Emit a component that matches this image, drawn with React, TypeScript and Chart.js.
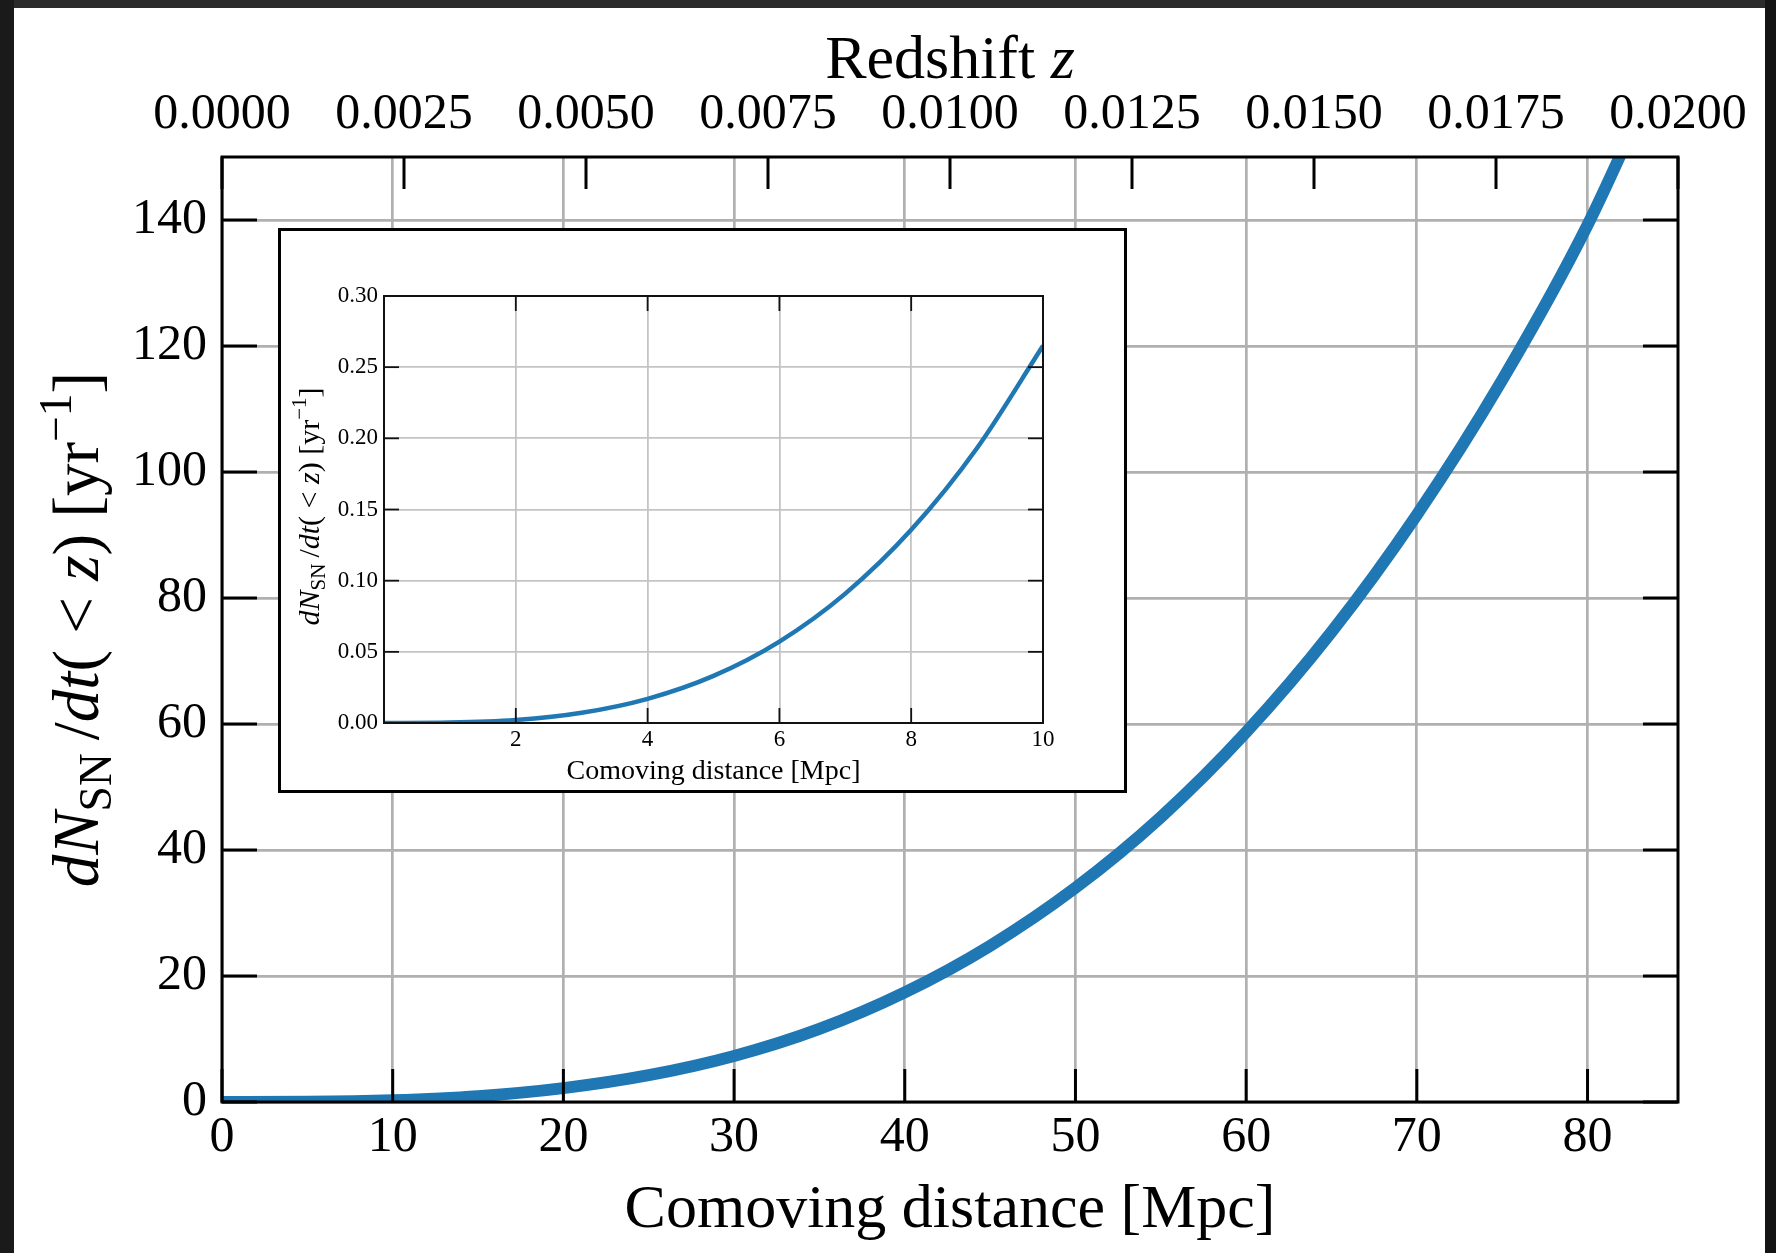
import React, { useEffect, useRef } from 'react';
import { Chart, registerables } from 'chart.js';

Chart.register(...registerables);

// ---------------- data ----------------
const distanceMpc = [0, 5, 10, 15, 20, 25, 30, 35, 40, 45, 50, 55, 60, 65, 70, 75, 80, 85];
const snRate = [0, 0.03, 0.27, 0.92, 2.2, 4.25, 7.3, 11.6, 17.4, 24.8, 34.0, 45.2, 58.7, 74.6, 93.2, 114.6, 139.2, 168.9];

const insetDistanceMpc = [0, 1, 2, 3, 4, 5, 6, 7, 8, 9, 10];
const insetSnRate = [0, 0.0003, 0.0021, 0.0072, 0.017, 0.0331, 0.0572, 0.0909, 0.1357, 0.1932, 0.265];

const distanceTicks = [0, 10, 20, 30, 40, 50, 60, 70, 80];
const rateTicks = [0, 20, 40, 60, 80, 100, 120, 140];
const redshiftTicks = [0, 0.0025, 0.005, 0.0075, 0.01, 0.0125, 0.015, 0.0175, 0.02];
const insetDistanceTicks = [2, 4, 6, 8, 10];
const insetRateTicks = [0, 0.05, 0.1, 0.15, 0.2, 0.25, 0.3];

const distanceMax = 85.3; // comoving distance at z = 0.02
const redshiftMax = 0.02;
const rateMax = 150;
const insetDistanceMax = 10;
const insetRateMax = 0.3;

// ---------------- styling ----------------
const SERIF = '"Liberation Serif", "Times New Roman", Times, serif';
const BLUE = '#1f77b4';

type Seg = { t: string; it?: boolean; s?: number; dy?: number };

function drawRich(ctx: CanvasRenderingContext2D, segs: Seg[], size: number, x: number, y: number, rot: number) {
  ctx.save();
  ctx.translate(x, y);
  ctx.rotate(rot);
  ctx.fillStyle = '#000';
  ctx.textBaseline = 'alphabetic';
  ctx.textAlign = 'left';
  const fontOf = (s: Seg) => `${s.it ? 'italic ' : ''}${(size * (s.s || 1)).toFixed(1)}px ${SERIF}`;
  let total = 0;
  const widths = segs.map((s) => {
    ctx.font = fontOf(s);
    const w = ctx.measureText(s.t).width;
    total += w;
    return w;
  });
  let cur = -total / 2;
  segs.forEach((s, i) => {
    ctx.font = fontOf(s);
    ctx.fillText(s.t, cur, (s.dy || 0) * size);
    cur += widths[i];
  });
  ctx.restore();
}

const rateLabel: Seg[] = [
  { t: 'd', it: true },
  { t: 'N', it: true },
  { t: 'SN', s: 0.7, dy: 0.2 },
  { t: '\u2009/' },
  { t: 'dt', it: true },
  { t: '( < ' },
  { t: 'z', it: true },
  { t: ') [yr' },
  { t: '\u22121', s: 0.7, dy: -0.42 },
  { t: ']' },
];

function line(ctx: CanvasRenderingContext2D, x1: number, y1: number, x2: number, y2: number) {
  ctx.beginPath();
  ctx.moveTo(x1, y1);
  ctx.lineTo(x2, y2);
  ctx.stroke();
}

const setTicks = (vals: number[]) => (axis: any) => {
  axis.ticks = vals.map((v) => ({ value: v }));
};

export default function App() {
  const mainRef = useRef<HTMLCanvasElement>(null);
  const insetRef = useRef<HTMLCanvasElement>(null);

  useEffect(() => {
    document.body.style.margin = '0';
    document.body.style.overflow = 'hidden';

    const framePlugin = {
      id: 'frame',
      beforeDraw(chart: any) {
        const { ctx, width, height } = chart;
        ctx.save();
        ctx.fillStyle = '#ffffff';
        ctx.fillRect(0, 0, width, height);
        ctx.fillStyle = '#2b2b2b';
        ctx.fillRect(0, 0, width, 8);
        ctx.fillStyle = '#1a1a1a';
        ctx.fillRect(0, 0, 14, height);
        ctx.fillStyle = '#141414';
        ctx.fillRect(1765, 0, width - 1765, height);
        ctx.restore();
      },
      afterDatasetsDraw(chart: any) {
        const { ctx, chartArea: a, scales } = chart;
        ctx.save();
        ctx.strokeStyle = '#000';
        ctx.lineWidth = 3;
        for (const t of scales.x.ticks) {
          const px = scales.x.getPixelForValue(t.value);
          line(ctx, px, a.bottom, px, a.bottom - 33);
        }
        for (const t of scales.x2.ticks) {
          const px = scales.x2.getPixelForValue(t.value);
          line(ctx, px, a.top, px, a.top + 32);
        }
        for (const t of scales.y.ticks) {
          const py = scales.y.getPixelForValue(t.value);
          line(ctx, a.left, py, a.left + 35, py);
          line(ctx, a.right - 35, py, a.right, py);
        }
        ctx.lineWidth = 3;
        ctx.strokeRect(a.left, a.top, a.right - a.left, a.bottom - a.top);
        ctx.restore();
      },
      afterDraw(chart: any) {
        const { ctx, chartArea: a } = chart;
        drawRich(ctx, [{ t: 'Redshift ' }, { t: 'z', it: true }], 62, (a.left + a.right) / 2, 78, 0);
        drawRich(ctx, rateLabel, 65, 98, (a.top + a.bottom) / 2, -Math.PI / 2);
      },
    };

    const tickFont = { family: SERIF, size: 50 };
    const mainChart = new Chart(mainRef.current!, {
      type: 'line',
      data: {
        labels: distanceMpc,
        datasets: [
          {
            data: distanceMpc.map((d, i) => ({ x: d, y: snRate[i] })),
            borderColor: BLUE,
            borderWidth: 12,
            pointRadius: 0,
            cubicInterpolationMode: 'monotone',
            clip: 0,
            fill: false,
          } as any,
        ],
      },
      options: {
        responsive: false,
        animation: false,
        layout: { padding: { left: 0, top: 0, right: 98, bottom: 0 } },
        plugins: { legend: { display: false }, tooltip: { enabled: false } },
        scales: {
          x: {
            type: 'linear',
            position: 'bottom',
            min: 0,
            max: distanceMax,
            afterBuildTicks: setTicks(distanceTicks),
            afterFit: (s: any) => { s.height = 151; },
            grid: { color: '#b0b0b0', lineWidth: 2.7, drawTicks: false },
            border: { display: false },
            ticks: { autoSkip: false, maxRotation: 0, font: tickFont, color: '#000', padding: 6, callback: (v: any) => String(v) },
            title: { display: true, text: 'Comoving distance [Mpc]', color: '#000', font: { family: SERIF, size: 62 }, padding: { top: 0, bottom: 5 } },
          },
          x2: {
            type: 'linear',
            position: 'top',
            min: 0,
            max: redshiftMax,
            afterBuildTicks: setTicks(redshiftTicks),
            afterFit: (s: any) => { s.height = 157; },
            grid: { display: false, drawTicks: false },
            border: { display: false },
            ticks: { autoSkip: false, maxRotation: 0, font: tickFont, color: '#000', padding: 12, callback: (v: any) => Number(v).toFixed(4) },
          },
          y: {
            type: 'linear',
            position: 'left',
            min: 0,
            max: rateMax,
            afterBuildTicks: setTicks(rateTicks),
            afterFit: (s: any) => { s.width = 222; },
            grid: { color: '#b0b0b0', lineWidth: 2.7, drawTicks: false },
            border: { display: false },
            ticks: { autoSkip: false, font: tickFont, color: '#000', padding: 15, callback: (v: any) => String(v) },
          },
        },
      } as any,
      plugins: [framePlugin],
    });

    const insetPlugin = {
      id: 'insetFrame',
      beforeDraw(chart: any) {
        const { ctx, width, height } = chart;
        ctx.save();
        ctx.fillStyle = '#ffffff';
        ctx.fillRect(0, 0, width, height);
        ctx.strokeStyle = '#000';
        ctx.lineWidth = 3;
        ctx.strokeRect(1.5, 1.5, width - 3, height - 3);
        ctx.restore();
      },
      afterDatasetsDraw(chart: any) {
        const { ctx, chartArea: a, scales } = chart;
        ctx.save();
        ctx.strokeStyle = '#111';
        ctx.lineWidth = 1.8;
        for (const t of scales.x.ticks) {
          const px = scales.x.getPixelForValue(t.value);
          line(ctx, px, a.bottom, px, a.bottom - 15);
          line(ctx, px, a.top, px, a.top + 15);
        }
        for (const t of scales.y.ticks) {
          const py = scales.y.getPixelForValue(t.value);
          line(ctx, a.left, py, a.left + 15, py);
          line(ctx, a.right - 15, py, a.right, py);
        }
        ctx.lineWidth = 2;
        ctx.strokeRect(a.left, a.top, a.right - a.left, a.bottom - a.top);
        ctx.restore();
      },
      afterDraw(chart: any) {
        const { ctx, chartArea: a } = chart;
        drawRich(ctx, rateLabel, 30, 41, (a.top + a.bottom) / 2 - 3, -Math.PI / 2);
      },
    };

    const insetTickFont = { family: SERIF, size: 23 };
    const insetChart = new Chart(insetRef.current!, {
      type: 'line',
      data: {
        labels: insetDistanceMpc,
        datasets: [
          {
            data: insetDistanceMpc.map((d, i) => ({ x: d, y: insetSnRate[i] })),
            borderColor: BLUE,
            borderWidth: 4.5,
            pointRadius: 0,
            cubicInterpolationMode: 'monotone',
            clip: 0,
            fill: false,
          } as any,
        ],
      },
      options: {
        responsive: false,
        animation: false,
        layout: { padding: { left: 0, top: 68, right: 84, bottom: 0 } },
        plugins: { legend: { display: false }, tooltip: { enabled: false } },
        scales: {
          x: {
            type: 'linear',
            position: 'bottom',
            min: 0,
            max: insetDistanceMax,
            afterBuildTicks: setTicks(insetDistanceTicks),
            afterFit: (s: any) => { s.height = 70; },
            grid: { color: '#c4c4c4', lineWidth: 1.8, drawTicks: false },
            border: { display: false },
            ticks: { autoSkip: false, maxRotation: 0, font: insetTickFont, color: '#000', padding: 3, callback: (v: any) => String(v) },
            title: { display: true, text: 'Comoving distance [Mpc]', color: '#000', font: { family: SERIF, size: 28 }, padding: { top: 0, bottom: 5 } },
          },
          y: {
            type: 'linear',
            position: 'left',
            min: 0,
            max: insetRateMax,
            afterBuildTicks: setTicks(insetRateTicks),
            afterFit: (s: any) => { s.width = 106; },
            grid: { color: '#c4c4c4', lineWidth: 1.8, drawTicks: false },
            border: { display: false },
            ticks: { autoSkip: false, font: insetTickFont, color: '#000', padding: 6, callback: (v: any) => Number(v).toFixed(2) },
          },
        },
      } as any,
      plugins: [insetPlugin],
    });

    return () => {
      mainChart.destroy();
      insetChart.destroy();
    };
  }, []);

  return (
    <div style={{ position: 'absolute', left: 0, top: 0, width: 1776, height: 1253, overflow: 'hidden' }}>
      <canvas ref={mainRef} width={1776} height={1253} style={{ position: 'absolute', left: 0, top: 0, width: 1776, height: 1253 }} />
      <div style={{ position: 'absolute', left: 278, top: 228, width: 849, height: 565 }}>
        <canvas ref={insetRef} width={849} height={565} style={{ width: 849, height: 565, display: 'block' }} />
      </div>
    </div>
  );
}
